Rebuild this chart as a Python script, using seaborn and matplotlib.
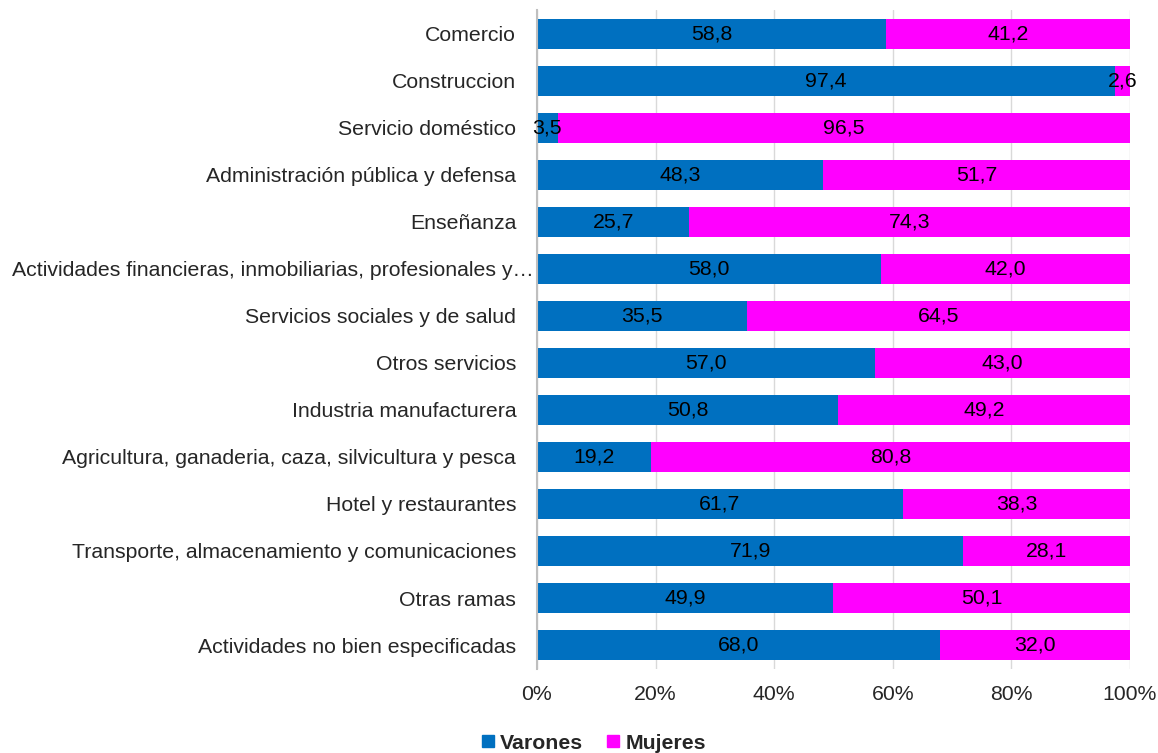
import numpy as np
import pandas as pd
import seaborn as sns
import matplotlib.pyplot as plt
from matplotlib.lines import Line2D
from matplotlib.ticker import PercentFormatter

categorias = [
    "Comercio",
    "Construccion",
    "Servicio doméstico",
    "Administración pública y defensa",
    "Enseñanza",
    "Actividades financieras, inmobiliarias, profesionales y…",
    "Servicios sociales y de salud",
    "Otros servicios",
    "Industria manufacturera",
    "Agricultura, ganaderia, caza, silvicultura y pesca",
    "Hotel y restaurantes",
    "Transporte, almacenamiento y comunicaciones",
    "Otras ramas",
    "Actividades no bien especificadas",
]
varones = [58.8, 97.4, 3.5, 48.3, 25.7, 58.0, 35.5, 57.0, 50.8, 19.2, 61.7, 71.9, 49.9, 68.0]
mujeres = [41.2, 2.6, 96.5, 51.7, 74.3, 42.0, 64.5, 43.0, 49.2, 80.8, 38.3, 28.1, 50.1, 32.0]
xticks = [0, 20, 40, 60, 80, 100]

azul = "#0070C0"
magenta = "#FF00FF"
fs = 15.3

df = pd.DataFrame({"rama": categorias, "Varones": varones, "Mujeres": mujeres})
df["total"] = df["Varones"] + df["Mujeres"]

sns.set_style("white")
plt.rcParams["font.family"] = ["Liberation Sans", "DejaVu Sans"]

fig = plt.figure(figsize=(11.58, 7.53), dpi=100)
ax = fig.add_axes([0.4637, 0.1122, 0.5121, 0.874])

# stacked: full bar in magenta, varones over it in blue
sns.barplot(data=df, x="total", y="rama", color=magenta, width=0.64,
            saturation=1, linewidth=0, ax=ax, zorder=2)
sns.barplot(data=df, x="Varones", y="rama", color=azul, width=0.64,
            saturation=1, linewidth=0, ax=ax, zorder=3)

fmt = lambda v: f"{v:.1f}".replace(".", ",")
labs = ax.bar_label(ax.containers[1], labels=[fmt(v) for v in varones],
                    label_type="center", fontsize=fs, color="black")
for t in labs:
    t.set_zorder(6)
    t.set_clip_on(False)
for i, (v, m) in enumerate(zip(varones, mujeres)):
    ax.text(v + m / 2, i, fmt(m), ha="center", va="center", fontsize=fs,
            color="black", zorder=6, clip_on=False)

ax.set_xlim(0, 100)
ax.set_xticks(xticks)
ax.xaxis.set_major_formatter(PercentFormatter(decimals=0))
ax.grid(axis="x", color="#D9D9D9", linewidth=1, zorder=0)
ax.set_axisbelow(True)
ax.set_xlabel("")
ax.set_ylabel("")
for s in ["top", "right", "bottom"]:
    ax.spines[s].set_visible(False)
ax.spines["left"].set_color("#BFBFBF")
ax.spines["left"].set_linewidth(1.5)
ax.spines["left"].set_zorder(5)
ax.tick_params(axis="y", length=0, pad=15, labelsize=fs)
ax.tick_params(axis="x", length=0, pad=12, labelsize=fs)
# the truncated long label sits closer to the axis, as in the original
ax.yaxis.get_major_ticks()[5].set_pad(2.5)

handles = [Line2D([], [], marker="s", linestyle="", color=azul, markersize=9),
           Line2D([], [], marker="s", linestyle="", color=magenta, markersize=9)]
fig.legend(handles, ["Varones", "Mujeres"], loc="center", bbox_to_anchor=(0.51, 0.013),
           ncol=2, frameon=False, handletextpad=0.0, columnspacing=0.8,
           handlelength=1.2, prop={"weight": "bold", "size": fs})

fig.savefig("out.png", dpi=100)
